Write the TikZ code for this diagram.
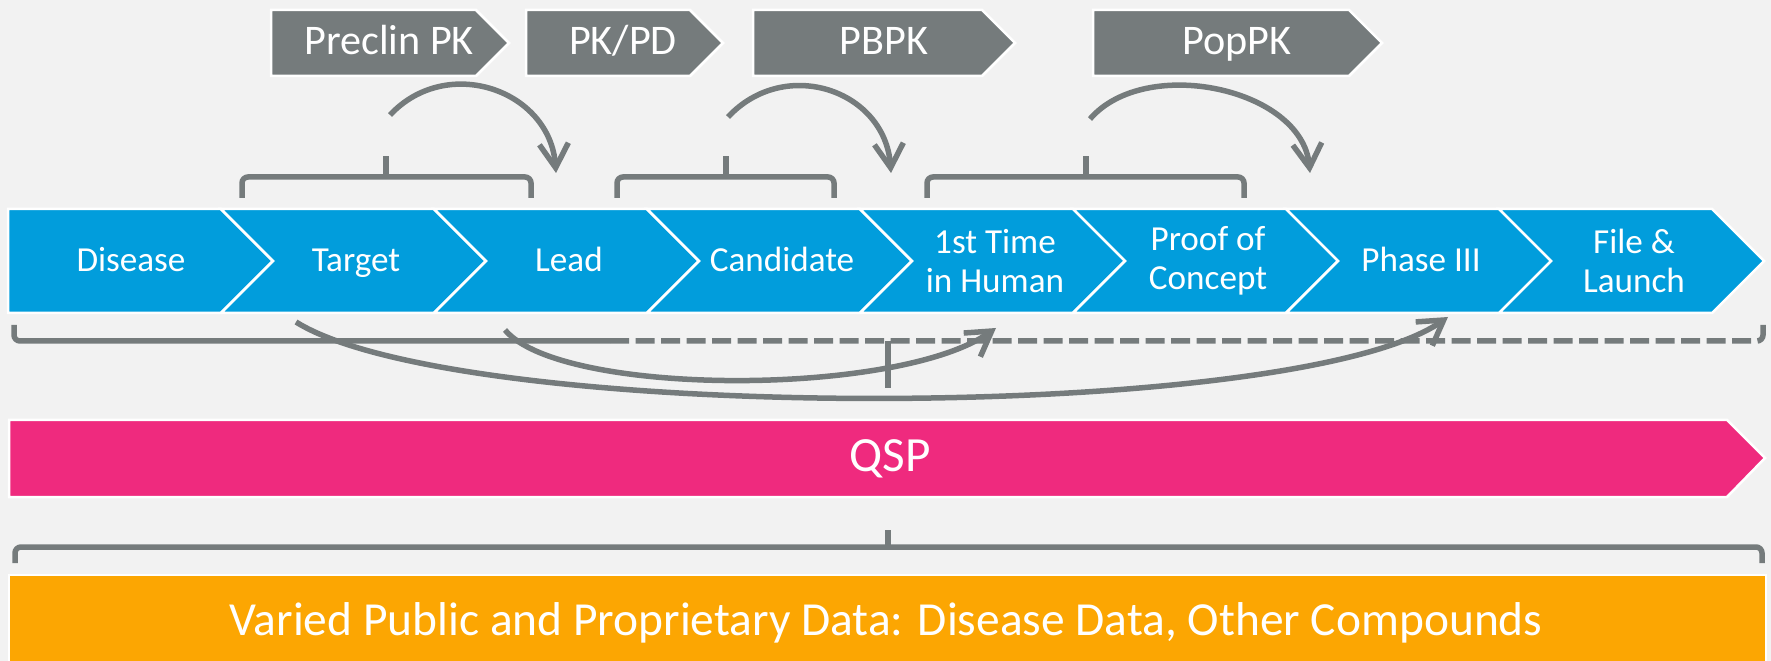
\documentclass[tikz,border=0pt]{standalone}
\usepackage{fontspec}
\setmainfont{Carlito}
\usetikzlibrary{arrows.meta}
\definecolor{bgc}{HTML}{F2F2F2}
\definecolor{stageblue}{HTML}{019DDC}
\definecolor{qsppink}{HTML}{EF2A7E}
\definecolor{dataorange}{HTML}{FCA602}
\definecolor{modelgray}{HTML}{757B7C}
\tikzset{
  stagetext/.style={text=white,font=\fontsize{10}{11.1}\selectfont,align=center},
  modeltext/.style={text=white,font=\fontsize{12}{14}\selectfont,anchor=base},
  bandtext/.style={text=white,anchor=base},
  link/.style={draw=modelgray,line width=0.55mm,->},
  brace/.style={draw=modelgray,line width=0.55mm,rounded corners=0.6mm},
  outline/.style={draw=white,line width=0.25mm}
}
\begin{document}
\begin{tikzpicture}[x=0.1mm,y=-0.1mm,>={Straight Barb[length=2.4mm,width=2.9mm]}]
\useasboundingbox (0,0) rectangle (1771,661);
\fill[bgc] (0,0) rectangle (1771,661);
\filldraw[fill=stageblue,outline] (8,209) -- (221,209) -- (273,261) -- (221,313) -- (8,313) -- cycle;
\foreach \i in {1,...,7}
  \filldraw[fill=stageblue,outline] ({8+213*\i},209) -- ({8+213*(\i+1)},209) -- ({60+213*(\i+1)},261)
    -- ({8+213*(\i+1)},313) -- ({8+213*\i},313) -- ({60+213*\i},261) -- cycle;
\node[stagetext,anchor=base] (disease) at (131,272) {Disease};
\node[stagetext,anchor=base] (target) at (356,272) {Target};
\node[stagetext,anchor=base] (lead) at (569,272) {Lead};
\node[stagetext,anchor=base] (candidate) at (782,272) {Candidate};
\node[stagetext] (fih) at (995,261) {1st Time\\in Human};
\node[stagetext] (poc) at (1208,261) {Proof of\\Concept};
\node[stagetext,anchor=base] (phase3) at (1421,272) {Phase III};
\node[stagetext] (launch) at (1634,261) {File \&\\Launch};
\foreach \l/\r in {271/476, 526/690, 753/982, 1093/1349}
  \filldraw[fill=modelgray,outline] (\l,10) -- (\r,10) -- ({\r+33},43) -- (\r,76) -- (\l,76) -- cycle;
\node[modeltext] (preclin) at (389,55) {Preclin PK};
\node[modeltext] (pkpd) at (623,55) {PK/PD};
\node[modeltext] (pbpk) at (884,55) {PBPK};
\node[modeltext] (poppk) at (1237,55) {PopPK};
\foreach \l/\m/\r in {242/386/531, 617/726/834, 927/1086/1244} {
  \draw[brace] (\l,198) -- (\l,177) -- (\r,177) -- (\r,198);
  \draw[brace] (\m,177) -- (\m,156);
}
\coordinate (pre1) at (390,115);
\coordinate (pre2) at (556,173);
\coordinate (cand1) at (728,117);
\coordinate (cand2) at (891,173);
\coordinate (clin1) at (1090,119);
\coordinate (clin2) at (1310,173);
\draw[link] (pre1) .. controls +(57,-61) and +(-6,-83) .. (pre2);
\draw[link] (cand1) .. controls +(57,-61) and +(-6,-83) .. (cand2);
\draw[link] (clin1) .. controls +(55,-64) and +(-8,-85) .. (clin2);
\draw[brace] (14,325) -- (14,341) -- (610,341);
\draw[brace,dash pattern=on 1.9mm off 0.65mm] (610,341) -- (1763,341) -- (1763,325);
\draw[brace] (888,341) -- (888,388);
\coordinate (back1) at (296,322);
\coordinate (back2) at (1448,317);
\coordinate (jump1) at (505,330);
\coordinate (jump2) at (996,328);
\draw[link] (back1) .. controls +(163,102) and +(-153,107) .. (back2);
\draw[link] (jump1) .. controls +(56,67) and +(-98,69) .. (jump2);
\filldraw[fill=qsppink,outline] (9,420) -- (1727,420) -- (1765,458) -- (1727,497) -- (9,497) -- cycle;
\node[bandtext,font=\fontsize{14}{16}\selectfont] (qsp) at (890,472) {QSP};
\draw[brace] (15,563) -- (15,547) -- (1762,547) -- (1762,563);
\draw[brace] (888,547) -- (888,530);
\filldraw[fill=dataorange,outline] (9,575) rectangle (1766,665);
\node[bandtext,font=\fontsize{13.5}{16}\selectfont] (data) at (886,635) {Varied Public and Proprietary Data: Disease Data, Other Compounds};
\end{tikzpicture}
\end{document}
